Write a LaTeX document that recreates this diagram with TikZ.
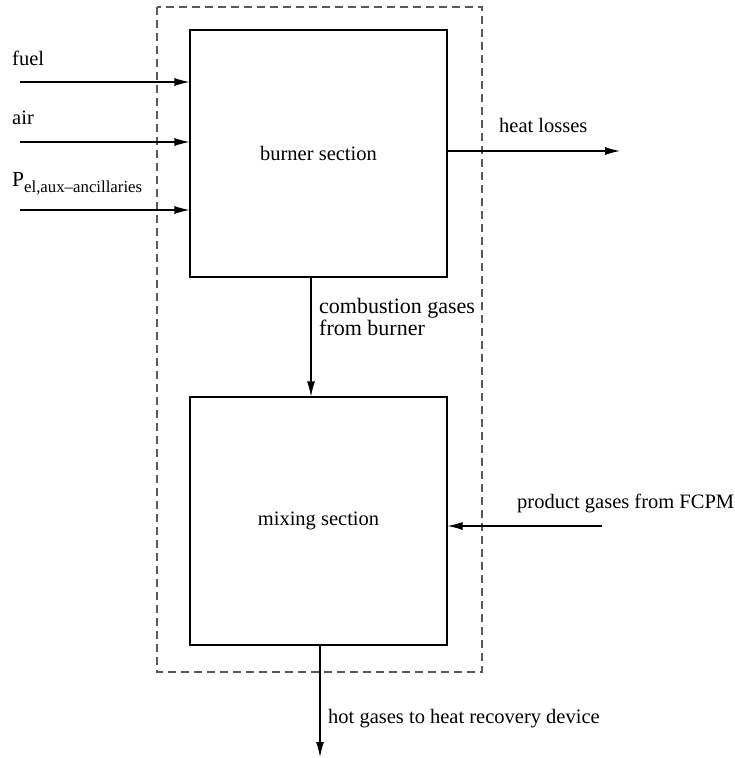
\documentclass[tikz,border=0pt]{standalone}
\usepackage{fontspec}
\setmainfont{Liberation Serif}
\usetikzlibrary{arrows.meta}
\begin{document}
\begin{tikzpicture}[x=1pt,y=-1pt,
  block/.style={draw,line width=1.1pt,minimum width=257pt,minimum height=247pt,font=\fontsize{20.5}{22}\selectfont},
  flow/.style={draw,line width=1.1pt,-{Latex[length=15pt,width=8pt]}},
  lbl/.style={font=\fontsize{20.5}{22}\selectfont,inner sep=0pt,anchor=base west},
  biglbl/.style={lbl,font=\fontsize{22}{22}\selectfont},
  envelope/.style={draw,gray!70!black,line width=1.1pt,dash pattern=on 8pt off 5pt}]
\useasboundingbox (0,0) rectangle (735,758);
% system boundary
\draw[envelope] (157,7) rectangle (482,672);
% the two sections
\node[block] (burner) at (318.5,153.5) {burner section};
\node[block,minimum height=248pt] (mixer) at (318.5,521) {mixing section};
% inputs on the left
\coordinate (fuelS) at (20,82);
\coordinate (airS) at (20,142);
\coordinate (auxS) at (20,210);
\draw[flow] (fuelS) -- (fuelS -| burner.west);
\draw[flow] (airS) -- (airS -| burner.west);
\draw[flow] (auxS) -- (auxS -| burner.west);
\node[lbl] (fuelL) at (12,65) {fuel};
\node[lbl] (airL) at (12,124) {air};
\node[lbl,font=\fontsize{21.5}{22}\selectfont] (auxL) at (12,186)
  {P\raisebox{-6pt}{\fontsize{16.8}{18}\selectfont el,aux\textendash ancillaries}};
% heat losses
\coordinate (heatE) at (620,151);
\draw[flow] (heatE -| burner.east) -- (heatE);
\node[lbl] (heatL) at (499,132) {heat losses};
% burner to mixer
\draw[flow] (311,0 |- burner.south) -- (311,0 |- mixer.north);
\node[biglbl] (combL1) at (319,313) {combustion gases};
\node[biglbl] (combL2) at (319,335) {from burner};
% product gases
\coordinate (prodS) at (602,526);
\draw[flow] (prodS) -- (prodS -| mixer.east);
\node[lbl] (prodL) at (517,508) {product gases from FCPM};
% exhaust
\coordinate (hotE) at (320,757);
\draw[flow] (320,0 |- mixer.south) -- (hotE);
\node[lbl] (hotL) at (328,723) {hot gases to heat recovery device};
\end{tikzpicture}
\end{document}
